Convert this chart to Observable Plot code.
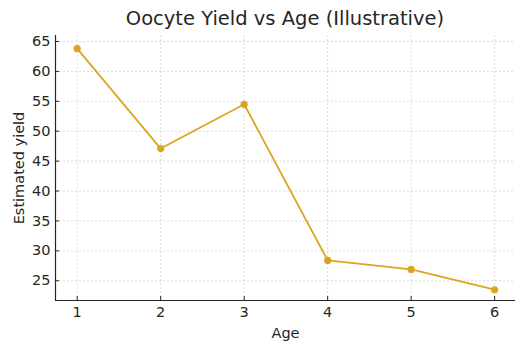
<!DOCTYPE html>
<html>
<head>
<meta charset="utf-8">
<script src="https://cdn.jsdelivr.net/npm/d3@7"></script>
<script src="https://cdn.jsdelivr.net/npm/@observablehq/plot@0.6"></script>
<style>
  body { margin: 0; background: #fff; font-family: "DejaVu Sans", sans-serif; }
  #title { position: relative; width: 528px; height: 30px; }
  #title span { position: absolute; left: 285px; top: 7px; transform: translateX(-50%); white-space: nowrap; font-size: 19.5px; color: #262626; }
</style>
</head>
<body>
<div id="title"><span>Oocyte Yield vs Age (Illustrative)</span></div>
<div id="chart"></div>
<script>
const ages = [1, 2, 3, 4, 5, 6];
const yields = [63.8, 47.1, 54.5, 28.4, 26.9, 23.5];
const xTicks = [1, 2, 3, 4, 5, 6];
const yTicks = [25, 30, 35, 40, 45, 50, 55, 60, 65];
const xLabel = "Age";
const yLabel = "Estimated yield";
const lineColor = "#DAA520";

const data = ages.map((a, i) => ({age: a, value: yields[i]}));
const xDomain = [0.74, 6.25];
const yDomain = [21.7, 66.0];

const chart = Plot.plot({
  width: 528,
  height: 322,
  marginTop: 5,
  marginLeft: 55,
  marginRight: 13,
  marginBottom: 52,
  style: {fontFamily: "DejaVu Sans, sans-serif", fontSize: "14.5px", color: "#262626", background: "#fff"},
  x: {domain: xDomain, ticks: xTicks},
  y: {domain: yDomain, ticks: yTicks},
  marks: [
    Plot.gridX(xTicks, {stroke: "#b0b0b0", strokeOpacity: 0.6, strokeDasharray: "2,2", strokeWidth: 0.8}),
    Plot.gridY(yTicks, {stroke: "#b0b0b0", strokeOpacity: 0.6, strokeDasharray: "2,2", strokeWidth: 0.8}),
    Plot.axisX(xTicks, {tickSize: -4, tickPadding: 10, label: null, stroke: "#262626", fontSize: 14.5}),
    Plot.axisY(yTicks, {tickSize: -4, tickPadding: 9, label: null, stroke: "#262626", fontSize: 14.5}),
    Plot.ruleX([xDomain[0]], {stroke: "#262626", strokeWidth: 1.2}),
    Plot.ruleY([yDomain[0]], {stroke: "#262626", strokeWidth: 1.2}),
    Plot.line(data, {x: "age", y: "value", stroke: lineColor, strokeWidth: 1.8}),
    Plot.dot(data, {x: "age", y: "value", fill: lineColor, r: 3.6}),
    Plot.text([xLabel], {frameAnchor: "bottom", dy: 37, fontSize: 14.5, fill: "#262626"}),
    Plot.text([yLabel], {frameAnchor: "left", textAnchor: "middle", dx: -36, rotate: -90, fontSize: 14.5, fill: "#262626"})
  ]
});
document.getElementById("chart").appendChild(chart);
</script>
</body>
</html>
